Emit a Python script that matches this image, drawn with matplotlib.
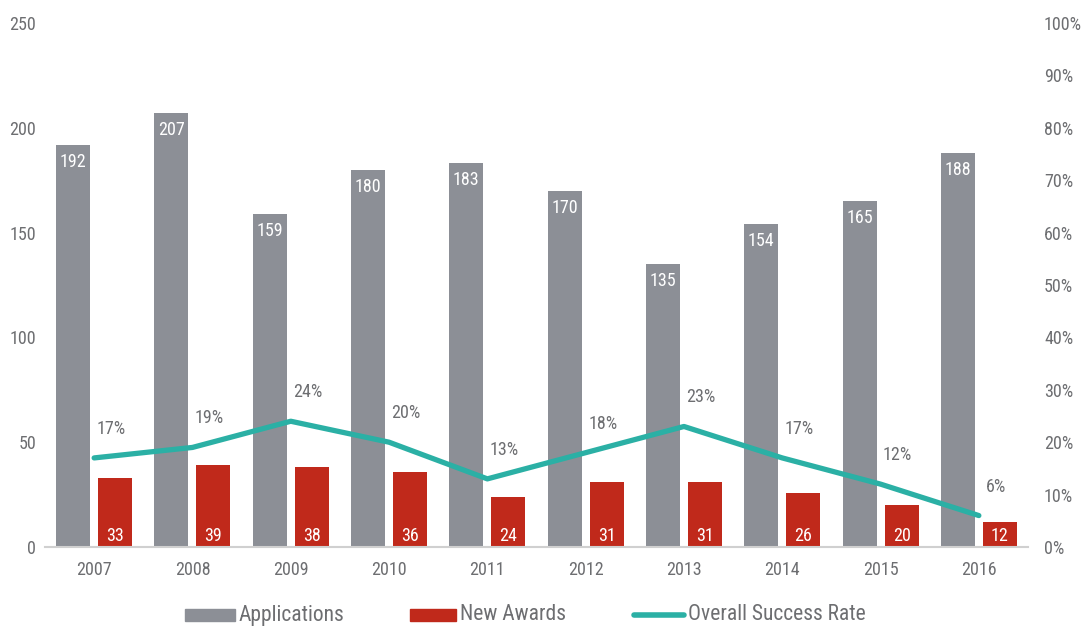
import numpy as np
import matplotlib
matplotlib.use("Agg")
import matplotlib.pyplot as plt
from matplotlib.patches import Rectangle
from matplotlib.lines import Line2D

years = ["2007", "2008", "2009", "2010", "2011", "2012", "2013", "2014", "2015", "2016"]
applications = [192, 207, 159, 180, 183, 170, 135, 154, 165, 188]
new_awards = [33, 39, 38, 36, 24, 31, 31, 26, 20, 12]
success_rate = [17, 19, 24, 20, 13, 18, 23, 17, 12, 6]

GRAY = "#8c8f96"
RED = "#c0291b"
TEAL = "#2bb0a5"
TXT = "#6d6e71"
FS = 13

plt.rcParams["font.family"] = ["Roboto Condensed", "DejaVu Sans"]

W, H = 1082, 627
fig = plt.figure(figsize=(W / 100, H / 100), dpi=100)
ax = fig.add_axes([45 / W, 80 / H, 983 / W, 524 / H])
ax2 = ax.twinx()

x = np.arange(len(years))
w = 0.346
off = 0.214

ax.bar(x - off, applications, w, color=GRAY, zorder=2)
ax.bar(x + off, new_awards, w, color=RED, zorder=2)

for xi, v in zip(x, applications):
    ax.annotate(str(v), (xi - off, v), xytext=(0, -17), textcoords="offset pixels",
                ha="center", va="center", color="white", fontsize=FS)
for xi, v in zip(x, new_awards):
    ax.annotate(str(v), (xi + off, 0), xytext=(0, 11), textcoords="offset pixels",
                ha="center", va="center", color="white", fontsize=FS)

ax.set_xlim(-0.5, len(years) - 0.5)
ax.set_ylim(0, 250)
ax.set_yticks(range(0, 251, 50))
ax.set_xticks(x)
ax.set_xticklabels(years)

ax2.plot(x, success_rate, color=TEAL, lw=3.8, solid_capstyle="round", zorder=3)
for xi, v in zip(x, success_rate):
    ax2.annotate(f"{v}%", (xi, v), xytext=(17, 29), textcoords="offset pixels",
                 ha="center", va="center", color=TXT, fontsize=FS)
ax2.set_ylim(0, 100)
ax2.set_yticks(range(0, 101, 10))
ax2.set_yticklabels([f"{t}%" for t in range(0, 101, 10)])

for a in (ax, ax2):
    for s in a.spines.values():
        s.set_visible(False)
    a.tick_params(length=0, labelsize=FS, labelcolor=TXT)
ax.spines["bottom"].set_visible(True)
ax.spines["bottom"].set_color("#d0d0d0")
ax.spines["bottom"].set_linewidth(1.5)
ax.tick_params(axis="x", pad=10)
ax.tick_params(axis="y", pad=6.5)
ax2.tick_params(axis="y", pad=11.5)
ax.set_zorder(ax2.get_zorder() - 1)
ax.patch.set_visible(False)

# legend row along the bottom, laid out in pixels
ly = 1 - 615 / H
fig.add_artist(Rectangle((185 / W, ly - 6 / H), 50 / W, 12 / H, color=GRAY, transform=fig.transFigure))
fig.text(239 / W, ly, "Applications", ha="left", va="center", color=TXT, fontsize=15.5)
fig.add_artist(Rectangle((410 / W, ly - 6 / H), 46 / W, 12 / H, color=RED, transform=fig.transFigure))
fig.text(460 / W, ly, "New Awards", ha="left", va="center", color=TXT, fontsize=15.5)
fig.add_artist(Line2D([634 / W, 684 / W], [ly, ly], color=TEAL, lw=4, solid_capstyle="round",
                      transform=fig.transFigure))
fig.text(688 / W, ly, "Overall Success Rate", ha="left", va="center", color=TXT, fontsize=15.5)

fig.savefig("out.png", dpi=100)
